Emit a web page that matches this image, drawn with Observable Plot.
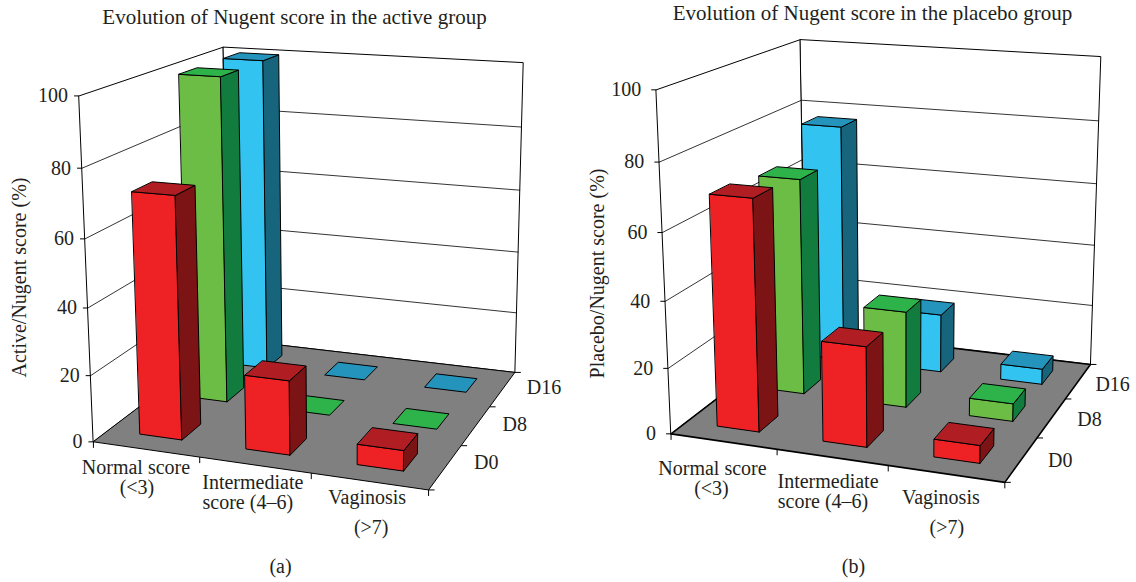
<!DOCTYPE html>
<html><head><meta charset="utf-8">
<style>html,body{margin:0;padding:0;background:#fff;overflow:hidden}svg{display:block}</style>
<script src="https://cdn.jsdelivr.net/npm/d3@7"></script>
<script src="https://cdn.jsdelivr.net/npm/@observablehq/plot@0.6"></script>
</head><body>
<script>
// ---- data ----
const categories = [["Normal score","(<3)"],["Intermediate","score (4–6)"],["Vaginosis","(>7)"]];
const days = ["D0","D8","D16"];
const valueTicks = [0,20,40,60,80,100];
const activeD0 = [72,22,6];
const activeD8 = [100,0,0];
const activeD16 = [100,0,0];
const placeboD0 = [69.5,30,5.3];
const placeboD8 = [67.5,30,5.5];
const placeboD16 = [77,19,5];
const activeTitle = "Evolution of Nugent score in the active group";
const placeboTitle = "Evolution of Nugent score in the placebo group";

// ---- camera calibration: [u, v, value, screen x, screen y] ----
const cameraA = [
 [0,0,0,93,440],[0,0,20,90,376],[0,0,40,87,308],[0,0,60,85,239],[0,0,80,82,167],[0,0,100,78,96],
 [3,3,0,514,372],[3,3,20,516,313],[3,3,40,517,252],[3,3,60,519,188],[3,3,80,521,125],[3,3,100,523,64],
 [0,3,0,229,339],[0,3,100,223,46],[3,0,0,429,489],
 [1,0,0,198,456],[2,0,0,311,473],[3,1,0,461,445],[3,2,0,489,407]];
const cameraB = [
 [0,0,0,671,433],[0,0,20,667,368],[0,0,40,665,301],[0,0,60,662,232],[0,0,80,659,162],[0,0,100,656,89],
 [3,3,0,1090,364],[3,3,20,1092,305],[3,3,40,1094,245],[3,3,60,1096,184],[3,3,80,1098,121],[3,3,100,1100,55],
 [0,3,0,805,330],[0,3,100,800,39],[3,0,0,1004,482],
 [1,0,0,776,449],[2,0,0,888,465],[3,1,0,1037,437],[3,2,0,1065,398]];

function fitCamera(pts){
  const n=11, A=Array.from({length:n},()=>new Array(n+1).fill(0));
  const add=(r,b)=>{for(let i=0;i<n;i++){for(let j=0;j<n;j++)A[i][j]+=r[i]*r[j];A[i][n]+=r[i]*b;}};
  for(const [u,v,w,x0,y0] of pts){
    const Z=w/100,x=x0/1000,y=y0/1000;
    add([u,v,Z,1,0,0,0,0,-x*u,-x*v,-x*Z],x);
    add([0,0,0,0,u,v,Z,1,-y*u,-y*v,-y*Z],y);
  }
  for(let c=0;c<n;c++){
    let p=c;for(let r=c+1;r<n;r++)if(Math.abs(A[r][c])>Math.abs(A[p][c]))p=r;
    [A[c],A[p]]=[A[p],A[c]];
    for(let r=0;r<n;r++){if(r===c)continue;const f=A[r][c]/A[c][c];for(let k=c;k<=n;k++)A[r][k]-=f*A[c][k];}
  }
  const s=A.map((r,i)=>r[n]/r[i]);
  return (u,v,w)=>{const Z=w/100,d=s[8]*u+s[9]*v+s[10]*Z+1;
    return [1000*(s[0]*u+s[1]*v+s[2]*Z+s[3])/d,1000*(s[4]*u+s[5]*v+s[6]*Z+s[7])/d];};
}

const barColors = [
 {front:"#EE2224",side:"#7C1315",top:"#B01E23"},
 {front:"#6BBD45",side:"#117C3E",top:"#2EB34B"},
 {front:"#33C3F0",side:"#17647D",top:"#2494BC"}];
const ink="#231F20", font="Liberation Serif";

function panel(cfg){
  const P=fitCamera(cfg.camera), X=d=>P(d.u,d.v,d.w)[0]+(d.dx||0), Y=d=>P(d.u,d.v,d.w)[1]+(d.dy||0);
  const faces=[];
  const face=(id,color,pts)=>pts.forEach(([u,v,w])=>faces.push({id,color,u,v,w}));
  face("wallL","#fff",[[0,0,0],[0,3,0],[0,3,100],[0,0,100]]);
  face("wallB","#fff",[[0,3,0],[3,3,0],[3,3,100],[0,3,100]]);
  const floor=[];
  [[0,0,0],[3,0,0],[3,3,0],[0,3,0]].forEach(([u,v,w])=>floor.push({id:"floor",color:"#808080",u,v,w}));
  const grid=[];
  valueTicks.slice(1,-1).forEach(w=>{
    [[0,0],[0,3],[3,3]].forEach(([u,v])=>grid.push({w,u,v}));
  });
  const hw=cfg.halfU, hd=cfg.halfV;
  for(let j=2;j>=0;j--)for(let i=0;i<3;i++){
    const w=cfg.series[j][i], c=barColors[j];
    const u0=i+.5-hw,u1=i+.5+hw,v0=j+.5-hd,v1=j+.5+hd,id=`b${i}${j}`;
    if(w>0){
      face(id+"f",c.front,[[u0,v0,0],[u1,v0,0],[u1,v0,w],[u0,v0,w]]);
      face(id+"s",c.side,[[u1,v0,0],[u1,v1,0],[u1,v1,w],[u1,v0,w]]);
    }
    face(id+"t",c.top,[[u0,v0,w],[u1,v0,w],[u1,v1,w],[u0,v1,w]]);
  }
  const walls=faces.filter(d=>d.id.startsWith("wall")), bars=faces.filter(d=>!d.id.startsWith("wall"));
  const yt=valueTicks.map(w=>({u:0,v:0,w}));
  const xt=d3.range(4).map(u=>({u,v:0,w:0}));
  const vt=d3.range(4).map(v=>({u:3,v,w:0}));
  const txt=(data,o)=>Plot.text(data,{fontFamily:font,fontSize:cfg.fs,fill:ink,x:X,y:Y,...o});
  return [
    Plot.line(walls,{x:X,y:Y,z:"id",fill:"color",stroke:"#000",strokeWidth:1,curve:"linear-closed"}),
    Plot.line(grid,{x:X,y:Y,z:"w",stroke:"#000",strokeWidth:.8}),
    Plot.line(floor,{x:X,y:Y,z:"id",fill:"color",stroke:"#000",strokeWidth:cfg.floorStroke,curve:"linear-closed"}),
    Plot.link(yt,{x1:d=>X(d)-5,y1:Y,x2:X,y2:Y,stroke:"#000",strokeWidth:1}),
    Plot.link(xt,{x1:X,y1:Y,x2:X,y2:d=>Y(d)+6,stroke:"#000",strokeWidth:1}),
    Plot.link(vt,{x1:X,y1:Y,x2:d=>X(d)+6,y2:Y,stroke:"#000",strokeWidth:1}),
    Plot.line(bars,{x:X,y:Y,z:"id",fill:"color",stroke:"#000",strokeWidth:1,curve:"linear-closed"}),
    txt(yt,{text:d=>String(d.w),textAnchor:"end",dx:cfg.yLabelDx}),
    txt(days.map((t,j)=>({t,u:3,v:j+1,w:0,dx:cfg.dayOff[j][0],dy:cfg.dayOff[j][1]})),{text:"t",textAnchor:"start"}),
    txt(categories.flatMap((ls,i)=>ls.map((t,l)=>({t,u:i+.5,v:0,w:0,dx:cfg.catOff[i][l][0],dy:cfg.catOff[i][l][1]}))),{text:"t"}),
    Plot.text([cfg.title],{x:()=>cfg.titleAt[0],y:()=>cfg.titleAt[1],text:d=>d,fontFamily:font,fontSize:cfg.titleFs,fill:ink}),
    Plot.text([cfg.axisTitle],{x:()=>cfg.axisAt[0],y:()=>cfg.axisAt[1],text:d=>d,rotate:-90,fontFamily:font,fontSize:cfg.fs,fill:ink}),
    Plot.text([cfg.tag],{x:()=>cfg.tagAt[0],y:()=>cfg.tagAt[1],text:d=>d,fontFamily:font,fontSize:cfg.fs,fill:ink})
  ];
}

const marks=[
 ...panel({camera:cameraA,series:[activeD0,activeD8,activeD16],halfU:.2,halfV:.2,fs:20,titleFs:21,floorStroke:1,
   yLabelDx:-11,dayOff:[[13,17],[13,18],[12,15]],
   catOff:[[[-10,18],[-9,38]],[[-2,18],[-7,38]],[[-2,16],[2,46]]],
   title:activeTitle,titleAt:[294,17],axisTitle:"Active/Nugent score (%)",axisAt:[19,277],tag:"(a)",tagAt:[280,566]}),
 ...panel({camera:cameraB,series:[placeboD0,placeboD8,placeboD16],halfU:.2,halfV:.2,fs:20,titleFs:21,floorStroke:1.6,
   yLabelDx:-15,dayOff:[[11,23],[12,21],[5,20]],
   catOff:[[[-11,27],[-12,47]],[[-4,24],[-9,44]],[[-5,24],[1,54]]],
   title:placeboTitle,titleAt:[872,13],axisTitle:"Placebo/Nugent score (%)",axisAt:[597,273],tag:"(b)",tagAt:[853,566]})
];
document.body.append(Plot.plot({
  width:1136,height:582,margin:0,
  x:{domain:[0,1136],range:[0,1136],axis:null},
  y:{domain:[0,582],range:[0,582],axis:null},
  marks
}));
</script>
</body></html>
